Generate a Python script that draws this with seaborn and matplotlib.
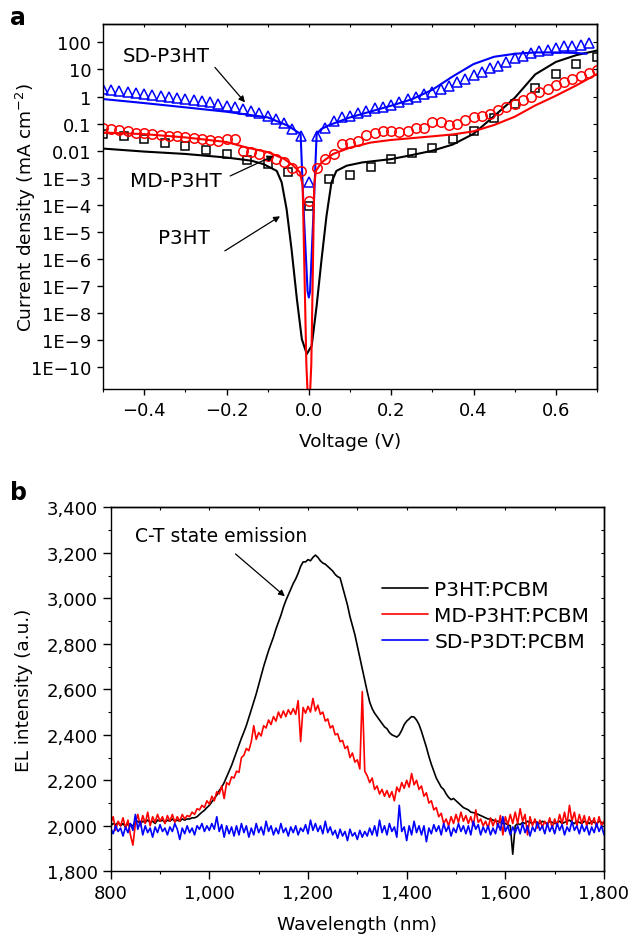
import numpy as np
import pandas as pd
import matplotlib
matplotlib.use("Agg")
import matplotlib.pyplot as plt
from matplotlib.ticker import (FixedLocator, FixedFormatter, LogLocator, NullFormatter,
                               MultipleLocator, FuncFormatter)
import seaborn as sns

# ---------------- Panel a data (J in mA cm^-2) ----------------
p3ht_v = [-0.50, -0.45, -0.40, -0.35, -0.30, -0.25, -0.20, -0.15, -0.10, -0.05, 0.00,
          0.05, 0.10, 0.15, 0.20, 0.25, 0.30, 0.35, 0.40, 0.45, 0.50, 0.55, 0.60, 0.65, 0.70]
p3ht_j = [0.041, 0.036, 0.028, 0.020, 0.0144, 0.0105, 0.0075, 0.0046, 0.0031, 0.0017, 9.3e-5,
          8.9e-4, 0.0013, 0.0026, 0.0049, 0.0081, 0.0126, 0.028, 0.055, 0.155, 0.52, 2.1, 6.8, 15.8, 28]

p3ht_fit_v = [-0.50, -0.40, -0.30, -0.20, -0.14, -0.11, -0.078, -0.066, -0.054, -0.042, -0.029,
              -0.017, -0.005, 0.007, 0.019, 0.031, 0.043, 0.055, 0.067, 0.092, 0.13, 0.20, 0.25,
              0.30, 0.35, 0.40, 0.45, 0.50, 0.55, 0.60, 0.65, 0.70]
p3ht_fit_j = [0.012, 0.0093, 0.0076, 0.0056, 0.0043, 0.0032, 0.0018, 6.8e-4, 6.9e-5, 2.3e-6, 3.3e-8,
              1.1e-9, 3.1e-10, 6.3e-10, 1.9e-8, 1.0e-6, 4.0e-5, 6.8e-4, 0.0018, 0.0028, 0.0037, 0.0049,
              0.0069, 0.010, 0.017, 0.042, 0.19, 0.89, 6.6, 19, 34, 50]

md_v = [-0.50, -0.48, -0.46, -0.44, -0.42, -0.40, -0.38, -0.36, -0.34, -0.32, -0.30, -0.28, -0.26,
        -0.24, -0.22, -0.20, -0.18, -0.16, -0.14, -0.12, -0.10, -0.08, -0.06, -0.04, -0.02, 0.00,
        0.02, 0.04, 0.06, 0.08, 0.10, 0.12, 0.14, 0.16, 0.18, 0.20, 0.22, 0.24, 0.26, 0.28, 0.30,
        0.32, 0.34, 0.36, 0.38, 0.40, 0.42, 0.44, 0.46, 0.48, 0.50, 0.52, 0.54, 0.56, 0.58, 0.60,
        0.62, 0.64, 0.66, 0.68, 0.70]
md_j = [0.072, 0.063, 0.058, 0.0515, 0.047, 0.045, 0.041, 0.039, 0.036, 0.034, 0.031, 0.029, 0.027,
        0.025, 0.023, 0.027, 0.027, 0.010, 0.0086, 0.0075, 0.0065, 0.0049, 0.0037, 0.0024, 0.0018,
        1.4e-4, 0.0024, 0.0049, 0.0078, 0.0175, 0.020, 0.023, 0.038, 0.047, 0.055, 0.055, 0.050,
        0.055, 0.072, 0.072, 0.111, 0.115, 0.091, 0.096, 0.139, 0.17, 0.185, 0.225, 0.32, 0.40,
        0.53, 0.72, 0.99, 1.42, 1.95, 2.65, 3.6, 4.6, 5.9, 7.5, 9.75]

md_fit_v = [-0.50, -0.40, -0.30, -0.20, -0.15, -0.10, -0.06, -0.04, -0.0215, -0.015, -0.011,
            -0.006, 0.0, 0.006, 0.010, 0.013, 0.017, 0.031, 0.059, 0.10, 0.15, 0.20, 0.30, 0.35,
            0.40, 0.45, 0.50, 0.55, 0.60, 0.65, 0.70]
md_fit_j = [0.047, 0.041, 0.031, 0.021, 0.013, 0.0089, 0.0050, 0.0030, 0.0016, 5.0e-4, 6.3e-7,
            1.3e-10, 1e-12, 1.3e-10, 6.3e-7, 5.0e-4, 0.0018, 0.0037, 0.0076, 0.013, 0.020, 0.025,
            0.034, 0.040, 0.052, 0.089, 0.18, 0.47, 1.07, 2.6, 6.8]

sd_v = [-0.50, -0.48, -0.46, -0.44, -0.42, -0.40, -0.38, -0.36, -0.34, -0.32, -0.30, -0.28, -0.26,
        -0.24, -0.22, -0.20, -0.18, -0.16, -0.14, -0.12, -0.10, -0.08, -0.06, -0.04, -0.02, 0.00,
        0.02, 0.04, 0.06, 0.08, 0.10, 0.12, 0.14, 0.16, 0.18, 0.20, 0.22, 0.24, 0.26, 0.28, 0.30,
        0.32, 0.34, 0.36, 0.38, 0.40, 0.42, 0.44, 0.46, 0.48, 0.50, 0.52, 0.54, 0.56, 0.58, 0.60,
        0.62, 0.64, 0.66, 0.68]
sd_j = [1.88, 1.78, 1.64, 1.50, 1.34, 1.23, 1.13, 1.01, 0.93, 0.85, 0.81, 0.74, 0.70,
        0.61, 0.53, 0.46, 0.40, 0.34, 0.30, 0.245, 0.195, 0.147, 0.105, 0.063, 0.036, 6.9e-4,
        0.035, 0.071, 0.128, 0.169, 0.195, 0.238, 0.30, 0.365, 0.40, 0.48, 0.61, 0.81, 0.93,
        1.23, 1.50, 1.88, 2.37, 3.33, 4.42, 6.2, 8.2, 10.9, 13.7, 18.2, 25.6, 30.3, 40.3, 49.1,
        53.5, 59.8, 71.0, 75.2, 79.4, 94.2]

sd_fit_v = [-0.50, -0.40, -0.30, -0.20, -0.10, -0.05, -0.03, -0.02, -0.012, -0.003, 0.0, 0.003,
            0.011, 0.019, 0.03, 0.05, 0.10, 0.15, 0.20, 0.25, 0.30, 0.35, 0.40, 0.45, 0.50, 0.55,
            0.60, 0.65, 0.675]
sd_fit_j = [0.81, 0.575, 0.40, 0.275, 0.17, 0.083, 0.052, 0.042, 4.0e-5, 6.3e-8, 3.8e-8, 6.3e-8,
            4.0e-5, 0.042, 0.063, 0.089, 0.17, 0.28, 0.46, 0.79, 1.78, 5.6, 15.8, 29.5, 38, 42.7,
            42.7, 40.7, 38]

ja_ticks = [1e2, 1e1, 1e0, 1e-1, 1e-2, 1e-3, 1e-4, 1e-5, 1e-6, 1e-7, 1e-8, 1e-9, 1e-10]
ja_labels = ["100", "10", "1", "0.1", "0.01", "1E\u22123", "1E\u22124", "1E\u22125", "1E\u22126",
             "1E\u22127", "1E\u22128", "1E\u22129", "1E\u221210"]

# ---------------- Panel b data (EL intensity, a.u.) ----------------
wl_start, wl_step = 800, 5
el_p3ht = [
    2000, 2010, 2005, 2015, 2000, 2010, 1995, 2010, 2005, 2000,
    2015, 2020, 2010, 2020, 2015, 2025, 2015, 2020, 2010, 2025,
    2020, 2025, 2015, 2025, 2020, 2030, 2020, 2025, 2020, 2030,
    2025, 2030, 2030, 2035, 2035, 2040, 2050, 2060, 2068, 2080,
    2090, 2105, 2120, 2135, 2155, 2170, 2190, 2215, 2240, 2265,
    2295, 2325, 2355, 2385, 2412, 2441, 2475, 2510, 2545, 2580,
    2620, 2660, 2700, 2735, 2770, 2800, 2830, 2865, 2895, 2925,
    2960, 2990, 3015, 3040, 3065, 3085, 3110, 3140, 3160, 3160,
    3170, 3165, 3180, 3190, 3180, 3165, 3155, 3150, 3140, 3130,
    3120, 3105, 3095, 3090, 3050, 3010, 2970, 2920, 2880, 2840,
    2790, 2740, 2690, 2640, 2590, 2544, 2515, 2495, 2480, 2465,
    2450, 2435, 2427, 2410, 2400, 2395, 2390, 2400, 2420, 2445,
    2460, 2470, 2480, 2478, 2465, 2445, 2415, 2380, 2345, 2305,
    2270, 2240, 2210, 2190, 2170, 2160, 2140, 2125, 2115, 2120,
    2110, 2100, 2090, 2080, 2075, 2070, 2060, 2058, 2055, 2050,
    2045, 2040, 2035, 2030, 2030, 2025, 2020, 2020, 2015, 2010,
    2010, 2005, 2000, 1875, 2000, 2010, 2005, 2015, 2010, 2020,
    2015, 2010, 2020, 2015, 2010, 2020, 2015, 2010, 2020, 2015,
    2010, 2015, 2020, 2010, 2015, 2020, 2025, 2015, 2010, 2020,
    2015, 2010, 2020, 2015, 2010, 2020, 2015, 2010, 2020, 2015,
    2010]
el_md = [
    2010, 2040, 1980, 2020, 2000, 2035, 1990, 2025, 1960, 1915,
    2010, 2050, 2000, 2045, 2010, 2060, 2000, 2040, 2015, 2050,
    2020, 2040, 2010, 2045, 2020, 2050, 2015, 2040, 2020, 2050,
    2030, 2045, 2040, 2060, 2050, 2075, 2070, 2090, 2080, 2110,
    2095, 2130, 2110, 2150, 2140, 2175, 2120, 2190, 2180, 2215,
    2210, 2240, 2235, 2300, 2310, 2340, 2330, 2370, 2440, 2380,
    2410, 2395, 2440, 2430, 2465, 2445, 2480, 2460, 2500, 2475,
    2505, 2480, 2510, 2490, 2515, 2490, 2550, 2370, 2520, 2495,
    2525, 2500, 2560, 2505, 2530, 2490, 2500, 2460, 2470, 2430,
    2440, 2400, 2405, 2370, 2375, 2340, 2350, 2300, 2320, 2280,
    2290, 2250, 2590, 2240, 2220, 2190, 2210, 2160, 2175, 2140,
    2160, 2130, 2155, 2125, 2150, 2110, 2170, 2150, 2190, 2165,
    2200, 2170, 2230, 2180, 2200, 2160, 2175, 2130, 2145, 2100,
    2110, 2070, 2080, 2040, 2055, 2010, 2030, 2000, 2040, 2010,
    2050, 2015, 2060, 2020, 2045, 2010, 2040, 2000, 2070, 2015,
    2030, 2000, 2020, 1990, 2035, 2000, 2030, 1995, 2045, 1960,
    2040, 2005, 2050, 2010, 2060, 2010, 2075, 2020, 2050, 1960,
    2040, 2000, 2030, 1990, 2025, 1995, 2020, 2000, 2035, 1990,
    2030, 2000, 2050, 2010, 2060, 2005, 2090, 2020, 2060, 2000,
    2050, 2010, 2045, 2000, 2040, 2005, 2035, 1995, 2040, 2000,
    2020]
el_sd = [
    1990, 1965, 2000, 1975, 1990, 1955, 1995, 1970, 2010, 1980,
    2050, 1985, 2020, 1960, 2000, 1970, 1990, 1950, 1995, 1970,
    2005, 1975, 1990, 1960, 1995, 1975, 2010, 1985, 1940, 1990,
    1965, 2000, 1970, 1990, 1960, 2000, 1985, 2010, 1975, 2000,
    1980, 2010, 1985, 2040, 1975, 2005, 1950, 2000, 1965, 1995,
    1955, 2000, 1960, 2010, 1970, 2000, 1950, 1990, 1960, 2010,
    1970, 1995, 1960, 2020, 1975, 2000, 1960, 1990, 1965, 2010,
    1970, 1990, 1955, 1995, 1970, 2000, 1960, 1990, 1975, 2005,
    1965, 2025, 1980, 2010, 1975, 2000, 1965, 2020, 1970, 1995,
    1960, 1980, 1945, 1985, 1955, 1975, 1935, 1985, 1955, 1970,
    1940, 1980, 1950, 1975, 1955, 1990, 1960, 2000, 1955, 2025,
    1970, 2000, 1960, 2010, 1975, 1995, 1950, 2090, 1975, 1995,
    1935, 2000, 1960, 2020, 1970, 2000, 1960, 2000, 1930, 1990,
    1965, 2005, 1975, 2000, 1960, 2010, 1975, 2000, 1955, 1990,
    1970, 2010, 1975, 2000, 1965, 2000, 1960, 2020, 1985, 2005,
    1960, 1995, 1970, 2000, 1960, 1990, 1965, 2010, 1980, 2040,
    1975, 2000, 1960, 1995, 1970, 2000, 1965, 2010, 1970, 2000,
    1955, 1995, 1975, 2015, 1980, 2000, 1965, 2010, 1975, 2000,
    1965, 2010, 1980, 2005, 1960, 1995, 1975, 2020, 1980, 2000,
    1965, 2005, 1975, 2000, 1960, 1995, 1970, 2010, 1975, 2000,
    1960]
el_labels = ["P3HT:PCBM", "MD-P3HT:PCBM", "SD-P3DT:PCBM"]
wavelength = [wl_start + wl_step * i for i in range(len(el_p3ht))]

# ---------------- Style ----------------
sns.set_theme(style="ticks")
plt.rcParams["font.family"] = ["DejaVu Sans"]
plt.rcParams["mathtext.fontset"] = "dejavusans"
plt.rcParams["axes.linewidth"] = 1.0
plt.rcParams["axes.edgecolor"] = "black"
plt.rcParams["xtick.color"] = "black"
plt.rcParams["ytick.color"] = "black"
plt.rcParams["text.color"] = "black"
plt.rcParams["axes.labelcolor"] = "black"

BLACK, RED, BLUE = "#000000", "#ff0000", "#0000ff"
TICK_FS, LABEL_FS, ANN_FS = 13, 13.3, 14.3

fig = plt.figure(figsize=(6.34, 9.37), dpi=100)
W, H = 634.0, 937.0
ax1 = fig.add_axes([103 / W, 1 - 390 / H, 494 / W, 365 / H])
ax2 = fig.add_axes([110.7 / W, 1 - 872.3 / H, 493.3 / W, 364 / H])

# ---------------- Panel a ----------------
ax1.set_yscale("log")


def markers(ax, x, y, mk, color, ms):
    sns.lineplot(x=x, y=y, ax=ax, estimator=None, sort=False, linestyle="",
                 marker=mk, markersize=ms, markerfacecolor="none",
                 markeredgecolor=color, markeredgewidth=1.1, color=color)


def curve(ax, x, y, color, lw):
    sns.lineplot(x=x, y=y, ax=ax, estimator=None, sort=False, color=color, linewidth=lw)


markers(ax1, p3ht_v, p3ht_j, "s", BLACK, 5.8)
curve(ax1, p3ht_fit_v, p3ht_fit_j, BLACK, 1.5)
markers(ax1, sd_v, sd_j, "^", BLUE, 7.2)
curve(ax1, sd_fit_v, sd_fit_j, BLUE, 1.5)
markers(ax1, md_v, md_j, "o", RED, 6.8)
curve(ax1, md_fit_v, md_fit_j, RED, 1.5)

ax1.set_xlim(-0.5, 0.7)
ax1.set_ylim(10 ** -10.8, 10 ** 2.68)
ax1.xaxis.set_major_locator(FixedLocator([-0.4, -0.2, 0.0, 0.2, 0.4, 0.6]))
ax1.xaxis.set_minor_locator(MultipleLocator(0.1))
ax1.yaxis.set_major_locator(FixedLocator(ja_ticks))
ax1.yaxis.set_major_formatter(FixedFormatter(ja_labels))
ax1.yaxis.set_minor_locator(LogLocator(base=10, subs=np.arange(2, 10)))
ax1.yaxis.set_minor_formatter(NullFormatter())
ax1.tick_params(which="major", direction="out", length=4.5, width=1.0, labelsize=TICK_FS, pad=4)
ax1.tick_params(which="minor", direction="out", length=2.4, width=0.8)
ax1.set_xlabel("Voltage (V)", fontsize=LABEL_FS)
ax1.set_ylabel("Current density (mA cm$^{\u22122}$)", fontsize=LABEL_FS)
ax1.xaxis.set_label_coords(0.5, -0.118)
ax1.yaxis.set_label_coords(-0.131, 0.5)

top1 = ax1.secondary_xaxis("top")
top1.xaxis.set_major_locator(FixedLocator([-0.4, -0.2, 0.0, 0.2, 0.4, 0.6]))
top1.xaxis.set_minor_locator(MultipleLocator(0.1))
top1.tick_params(which="both", direction="in", labeltop=False, length=2.5, width=0.8)
right1 = ax1.secondary_yaxis("right")
right1.yaxis.set_major_locator(FixedLocator(ja_ticks))
right1.yaxis.set_minor_locator(LogLocator(base=10, subs=np.arange(2, 10)))
right1.yaxis.set_major_formatter(NullFormatter())
right1.yaxis.set_minor_formatter(NullFormatter())
right1.tick_params(which="major", direction="in", length=3, width=0.8)
right1.tick_params(which="minor", direction="in", length=2, width=0.6)

arrow_kw = dict(arrowstyle="-|>", color="black", lw=0.9, mutation_scale=9, shrinkA=0, shrinkB=0)
ax1.text(-0.347, 34, "SD-P3HT", fontsize=ANN_FS, ha="center", va="center")
ax1.annotate("", xy=(-0.155, 0.61), xytext=(-0.228, 11.9), arrowprops=arrow_kw)
ax1.text(-0.323, 8.2e-4, "MD-P3HT", fontsize=ANN_FS, ha="center", va="center")
ax1.annotate("", xy=(-0.086, 6.5e-3), xytext=(-0.191, 1.17e-3), arrowprops=arrow_kw)
ax1.text(-0.303, 6.2e-6, "P3HT", fontsize=ANN_FS, ha="center", va="center")
ax1.annotate("", xy=(-0.07, 3.8e-5), xytext=(-0.204, 2.0e-6), arrowprops=arrow_kw)

fig.text(10 / W, 1 - 25 / H, "a", fontsize=17, fontweight="bold", ha="left", va="baseline")

# ---------------- Panel b ----------------
df_b = pd.DataFrame({"Wavelength": wavelength * 3,
                     "EL": el_p3ht + el_md + el_sd,
                     "Sample": [el_labels[0]] * len(el_p3ht) + [el_labels[1]] * len(el_md)
                               + [el_labels[2]] * len(el_sd)})
sns.lineplot(data=df_b, x="Wavelength", y="EL", hue="Sample", hue_order=el_labels,
             palette=[BLACK, RED, BLUE], estimator=None, sort=False, linewidth=1.2, ax=ax2)

ax2.set_xlim(800, 1800)
ax2.set_ylim(1800, 3400)
ax2.xaxis.set_major_locator(MultipleLocator(200))
ax2.xaxis.set_minor_locator(MultipleLocator(100))
ax2.yaxis.set_major_locator(MultipleLocator(200))
ax2.yaxis.set_minor_locator(MultipleLocator(100))
comma = FuncFormatter(lambda v, p: f"{int(round(v)):,}")
ax2.xaxis.set_major_formatter(comma)
ax2.yaxis.set_major_formatter(comma)
ax2.tick_params(which="major", direction="out", length=5.5, width=1.0, labelsize=TICK_FS, pad=4)
ax2.tick_params(which="minor", direction="out", length=2.2, width=0.8)
ax2.set_xlabel("Wavelength (nm)", fontsize=LABEL_FS)
ax2.set_ylabel("EL intensity (a.u.)", fontsize=LABEL_FS)
ax2.xaxis.set_label_coords(0.5, -0.12)
ax2.yaxis.set_label_coords(-0.158, 0.5)

top2 = ax2.secondary_xaxis("top")
top2.xaxis.set_major_locator(MultipleLocator(200))
top2.xaxis.set_minor_locator(MultipleLocator(100))
top2.tick_params(which="both", direction="in", labeltop=False, length=2.5, width=0.8)
right2 = ax2.secondary_yaxis("right")
right2.yaxis.set_major_locator(MultipleLocator(200))
right2.yaxis.set_minor_locator(MultipleLocator(100))
right2.tick_params(which="both", direction="in", labelright=False, length=2.5, width=0.8)

leg = ax2.legend(loc="upper left", bbox_to_anchor=(0.55, 0.80), frameon=False,
                 fontsize=14.5, handlelength=2.3, handletextpad=0.3, labelspacing=0.34,
                 borderpad=0, borderaxespad=0)
for h in leg.get_lines():
    h.set_linewidth(1.2)

ax2.text(849, 3274, "C-T state emission", fontsize=13.5, ha="left", va="center")
ax2.annotate("", xy=(1153, 3009), xytext=(1053, 3195), arrowprops=arrow_kw)

fig.text(10 / W, 1 - 500 / H, "b", fontsize=17, fontweight="bold", ha="left", va="baseline")

fig.savefig("out.png", dpi=100)
